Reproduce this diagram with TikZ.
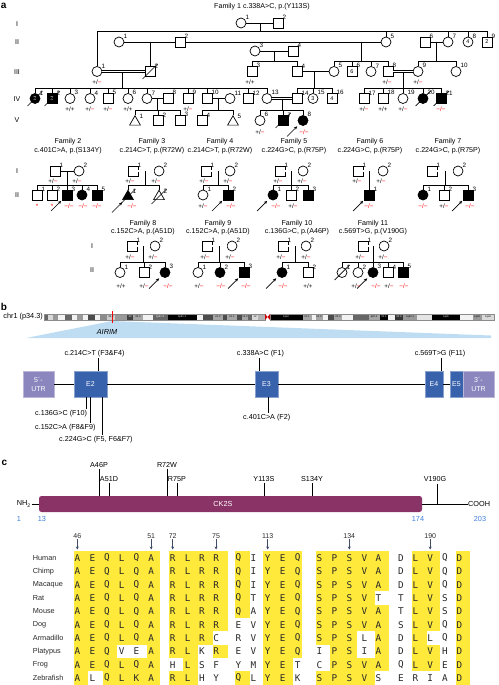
\documentclass[tikz,border=0pt]{standalone}
\usepackage{fontspec}
\setmainfont{Liberation Sans}
\newfontfamily\monof{DejaVu Sans Mono}
\usetikzlibrary{arrows.meta,calc,shapes.geometric}
\definecolor{ylw}{RGB}{255,234,60}
\definecolor{exb}{RGB}{56,98,172}
\definecolor{utr}{RGB}{140,134,191}
\definecolor{ckp}{RGB}{138,51,102}
\definecolor{nblue}{RGB}{62,127,214}
\definecolor{lblue}{RGB}{190,221,243}
\definecolor{arrc}{RGB}{62,74,102}
\definecolor{txt}{RGB}{40,40,40}
\newcommand\fs[1]{\fontsize{#1}{#1}\selectfont}
\newcommand\gHet{+/\textcolor{red}{−}}
\newcommand\gHom{\textcolor{red}{−/−}}
\newcommand\gWt{+/+}
\newcommand\Ind[6]{\node[#2] (#1) at (#3,#4) {#6};\node[num] (#1n) at (#3+4.3,#4-3.3) {#5};}
\newcommand\Dec[1]{\draw[ln] ($(#1)+(-7.5,7.5)$) -- ($(#1)+(7.5,-7.5)$);}
\newcommand\Prb[1]{\draw[pa] ($(#1)+(-16,16)$) -- ($(#1)+(-5.8,5.8)$);}
\newcommand\Sib[3]{\draw[ln] (#2.north) |- (#3.north|-#1) -- (#3.north);}
\newcommand\Tk[2]{\draw[ln] (#2.north) -- (#2.north|-#1);}
\newcommand\Gt[4]{\node[gt] (#1) at (#2,#3) {#4};}
\def\CX{{77.3,92.3,107,121.7,136.5,151.2,172.7,187.7,201.9,216.1,238.3,253.3,267.7,282.7,297.7,319.3,334.3,349.3,364.3,378.3,401,415.3,430.2,445,459.3}}
\def\CL{{74,88,102.5,117.3,131.5,146.7,169,183,198.3,213,235,250,263.3,278,292.7,316,330.3,343.5,356.7,374.5,397,412.3,426.7,439.7,456}}
\def\CR{{88,102.5,117.3,131.5,146.7,160,183,198.3,213,227.7,250,263.3,278,292.7,302.3,330.3,343.5,356.7,374.5,389.3,412.3,426.7,439.7,456,470}}
\newcommand\Row[3]{%
 \node[sp] (sp#1) at (32.7,#2) {#1};
 \foreach \aL/\aF [count=\j from 0] in {#3} {%
   \pgfmathsetmacro\celll{\CL[\j]}\pgfmathsetmacro\cellr{\CR[\j]}%
   \ifnum\aF=1 \fill[ylw] (\celll,#2-6.67) rectangle (\cellr,#2+6.67);\fi}
 \foreach \aL/\aF [count=\j from 0] in {#3} {%
   \pgfmathsetmacro\cellx{\CX[\j]}%
   \node[aa] (#1c\j) at (\cellx,#2) {\aL};}
}
\tikzset{
 ind/.style={draw=black, line width=0.7pt, minimum size=10pt, inner sep=0pt, fill=white, font=\fs{5.5}},
 msq/.style={ind, rectangle},
 fsq/.style={ind, rectangle, fill=black, text=white},
 mci/.style={ind, circle},
 fci/.style={ind, circle, fill=black, text=white},
 mtri/.style={ind, regular polygon, regular polygon sides=3, minimum size=12.5pt},
 ftri/.style={mtri, fill=black},
 num/.style={font=\fs{6.3}, inner sep=0pt, anchor=south west},
 gt/.style={font=\fs{6.3}, inner sep=0pt},
 ln/.style={line width=0.7pt},
 dbl/.style={line width=0.55pt, double, double distance=1.1pt},
 pa/.style={line width=0.7pt, -{Stealth[length=3.4pt,width=3pt]}},
 ttl/.style={font=\fontsize{7.1}{8.6}\selectfont, align=center, inner sep=0pt},
 gen/.style={font=\fs{7}, inner sep=0pt},
 plab/.style={font=\bfseries\fs{10}, inner sep=0pt, anchor=west},
 sp/.style={font=\fs{7.3}, inner sep=0pt, anchor=west, text=txt},
 aa/.style={font=\monof\fs{9.3}, inner sep=0pt, text=txt},
 mlab/.style={font=\fs{7.2}, inner sep=1pt},
 exbox/.style={rectangle, fill=exb, draw=exb!60!white, line width=0.3pt, minimum height=26pt, inner sep=0pt, text=white, font=\fs{7}},
 utrbox/.style={rectangle, fill=utr, draw=utr!60!white, line width=0.3pt, minimum height=26pt, minimum width=31pt, inner sep=0pt, text=white, font=\fontsize{7}{9}\selectfont, align=center},
 bnum/.style={font=\fs{7.3}, inner sep=0pt, text=nblue},
 pnum/.style={font=\fs{7}, inner sep=0.8pt, text=txt},
 alarr/.style={arrc, line width=0.7pt, -{Stealth[length=3pt,width=3pt]}},
 band/.style={font=\fs{2.6}, inner sep=0pt},
}
\begin{document}
\begin{tikzpicture}[x=1pt,y=-1pt]
\useasboundingbox (0,0) rectangle (498,685);
% ===== panel labels =====
\node[plab] (pa) at (0.8,5.5) {a};
\node[plab] (pb) at (0.8,306.5) {b};
\node[plab] (pc) at (1.5,463) {c};
% ===== Family 1 =====
\node[ttl] (t1) at (262,6.5) {Family 1 c.338A>C, p.(Y113S)};
\node[gen] (g1a) at (17,24) {I};
\node[gen] (g1b) at (17,42) {II};
\node[gen] (g1c) at (17,72) {III};
\node[gen] (g1d) at (17,99) {IV};
\node[gen] (g1e) at (17,120.5) {V};
% gen I
\Ind{f1a1}{mci}{241}{23}{1}{}
\Ind{f1a2}{msq}{278}{23}{2}{}
% gen II
\Ind{f1b1}{mci}{119}{42}{1}{}
\Ind{f1b2}{msq}{180}{42}{2}{}
\Ind{f1b3}{mci}{255}{51}{3}{}
\Ind{f1b4}{msq}{293}{51}{4}{}
\Ind{f1b5}{mci}{386}{42}{5}{}
\Ind{f1b6}{msq}{425}{42}{6}{}
\Ind{f1b7}{mci}{448}{42}{7}{}
\Ind{f1b8}{mci}{468}{42}{8}{4}
\Ind{f1b9}{msq}{487}{42}{9}{2}
% gen III
\Ind{f1c1}{mci}{97}{71.5}{1}{}
\Ind{f1c2}{msq}{150}{71.5}{2}{}
\Ind{f1c3}{msq}{252}{71.5}{3}{}
\Ind{f1c4}{msq}{297}{71.5}{4}{}
\Ind{f1c5}{mci}{334}{71.5}{5}{}
\Ind{f1c6}{msq}{352}{71.5}{6}{6}
\Ind{f1c7}{mci}{371}{71.5}{7}{}
\Ind{f1c8}{msq}{388}{71.5}{8}{}
\Ind{f1c9}{mci}{418}{71.5}{9}{}
\Ind{f1c10}{mci}{456}{71.5}{10}{}
% gen IV
\Ind{f1d1}{fci}{35}{98.5}{1}{2}
\Ind{f1d2}{fsq}{52}{98.5}{2}{2}
\Ind{f1d3}{mci}{70}{98.5}{3}{}
\Ind{f1d4}{mci}{90}{98.5}{4}{}
\Ind{f1d5}{msq}{108}{98.5}{5}{}
\Ind{f1d6}{mci}{128}{98.5}{6}{}
\Ind{f1d7}{mci}{147}{98.5}{7}{}
\Ind{f1d8}{msq}{168}{98.5}{8}{}
\Ind{f1d9}{msq}{188}{98.5}{9}{}
\Ind{f1d10}{msq}{207}{98.5}{10}{}
\Ind{f1d11}{mci}{230}{98.5}{11}{}
\Ind{f1d12}{msq}{248}{98.5}{12}{}
\Ind{f1d13}{mci}{267}{98.5}{13}{}
\Ind{f1d14}{msq}{297}{98.5}{14}{}
\Ind{f1d15}{mci}{313}{98.5}{15}{3}
\Ind{f1d16}{msq}{332}{98.5}{16}{4}
\Ind{f1d17}{msq}{364}{98.5}{17}{}
\Ind{f1d18}{msq}{383}{98.5}{18}{}
\Ind{f1d19}{mci}{403}{98.5}{19}{}
\Ind{f1d20}{fci}{423}{98.5}{20}{}
\Ind{f1d21}{fsq}{441}{98.5}{21}{}
% gen V
\Ind{f1e1}{mtri}{135}{122}{1}{}
\Ind{f1e2}{msq}{158}{120.5}{2}{}
\Ind{f1e3}{msq}{180}{120.5}{3}{}
\Ind{f1e4}{msq}{202}{120.5}{4}{}
\Ind{f1e5}{mtri}{233}{122}{5}{}
\Ind{f1e6}{mci}{260}{120.5}{6}{}
\Ind{f1e7}{fsq}{283}{120.5}{7}{}
\Ind{f1e8}{fci}{303}{120.5}{8}{}
% lines family 1
\draw[ln] (f1a1) -- (f1a2);
\coordinate (f1m1) at (260,23); \coordinate (f1s1) at (260,31);
\draw[ln] (f1m1) -- (f1s1);
\Sib{f1s1}{f1c1}{f1b9}
\Tk{f1s1}{f1b5}\Tk{f1s1}{f1b7}\Tk{f1s1}{f1b8}
\draw[ln] (f1b1) -- (f1b2); \draw[ln] (f1b2) -- (f1b5);
\coordinate (f1m2) at (150,42);
\draw[ln] (f1m2) -- (f1c2);
\draw[ln] (f1b3) -- (f1b4);
\coordinate (f1m3) at (274,51); \coordinate (f1s3) at (274,61);
\draw[ln] (f1m3) -- (f1s3);
\Sib{f1s3}{f1c3}{f1c4}
\coordinate (f1m4) at (361,42); \coordinate (f1s4) at (361,61);
\draw[ln] (f1m4) -- (f1s4);
\Sib{f1s4}{f1c5}{f1c8}\Tk{f1s4}{f1c6}\Tk{f1s4}{f1c7}
\draw[ln] (f1b6) -- (f1b7);
\coordinate (f1m5) at (436.5,42); \coordinate (f1s5) at (436.5,61);
\draw[ln] (f1m5) -- (f1s5);
\Sib{f1s5}{f1c9}{f1c10}
\draw[dbl] (f1c1) -- (f1c2);
\Dec{f1c2}
\coordinate (f1m6) at (122,71.5); \coordinate (f1s6) at (122,88);
\draw[ln] (f1m6) -- (f1s6);
\Sib{f1s6}{f1d1}{f1d13}
\foreach \q in {f1d2,f1d3,f1d4,f1d5,f1d6,f1d7,f1d9,f1d10,f1d12} {\Tk{f1s6}{\q}}
\draw[ln] (f1c4) -- (f1c5);
\coordinate (f1m7) at (314,71.5); \coordinate (f1s7) at (314,88);
\draw[ln] (f1m7) -- (f1s7);
\Sib{f1s7}{f1d14}{f1d16}\Tk{f1s7}{f1d15}
\draw[dbl] (f1c8) -- (f1c9);
\coordinate (f1m8) at (403,71.5); \coordinate (f1s8) at (403,88);
\draw[ln] (f1m8) -- (f1s8);
\Sib{f1s8}{f1d17}{f1d21}\Tk{f1s8}{f1d18}\Tk{f1s8}{f1d19}\Tk{f1s8}{f1d20}
\Dec{f1d1}\Dec{f1d2}\Dec{f1d20}\Dec{f1d21}
\draw[ln] (f1d7) -- (f1d8);
\coordinate (f1m9) at (157.5,98.5); \coordinate (f1s9) at (157.5,110.5);
\draw[ln] (f1m9) -- (f1s9);
\Sib{f1s9}{f1e1}{f1e3}\Tk{f1s9}{f1e2}
\draw[ln] (f1d10) -- (f1d11);
\coordinate (f1m10) at (218.5,98.5); \coordinate (f1s10) at (218.5,110.5);
\draw[ln] (f1m10) -- (f1s10);
\Sib{f1s10}{f1e4}{f1e5}
\draw[dbl] (f1d13) -- (f1d14);
\coordinate (f1m11) at (282,98.5); \coordinate (f1s11) at (282,110.5);
\draw[ln] (f1m11) -- (f1s11);
\Sib{f1s11}{f1e6}{f1e8}\Tk{f1s11}{f1e7}
\Dec{f1e7}\Prb{f1e8}
% genotypes family 1
\Gt{f1g1}{97}{82}{\gHet}
\Gt{f1g2}{250}{82}{\gWt}
\Gt{f1g3}{387}{82}{\gHet}
\Gt{f1g4}{418}{82}{\gHet}
\Gt{f1g5}{70}{109}{\gWt}
\Gt{f1g6}{90}{109}{\gHet}
\Gt{f1g7}{108}{109}{\gHet}
\Gt{f1g8}{128}{109}{\gWt}
\Gt{f1g9}{188}{109}{\gHet}
\Gt{f1g10}{364}{109}{\gHet}
\Gt{f1g11}{383}{109}{\gWt}
\Gt{f1g12}{403}{109}{\gHet}
\Gt{f1g13}{441}{109}{\gHom}
\Gt{f1g14}{260}{132}{\gHet}
\Gt{f1g15}{304}{132}{\gHom}
% ===== Families 2-7 =====
\node[gen] (g2a) at (17,171) {I};
\node[gen] (g2b) at (17,195) {II};
\node[ttl] (t2) at (68,146.3) {Family 2\\c.401C>A, p.(S134Y)};
\node[ttl] (t3) at (152,146.3) {Family 3\\c.214C>T, p.(R72W)};
\node[ttl] (t4) at (220,146.3) {Family 4\\c.214C>T, p.(R72W)};
\node[ttl] (t5) at (294,146.3) {Family 5\\c.224G>C, p.(R75P)};
\node[ttl] (t6) at (370,146.3) {Family 6\\c.224G>C, p.(R75P)};
\node[ttl] (t7) at (448,146.3) {Family 7\\c.224G>C, p.(R75P)};
% F2
\Ind{f2a1}{msq}{55}{171}{1}{}
\Ind{f2a2}{mci}{79}{171}{2}{}
\Ind{f2b1}{msq}{37}{195}{1}{}
\Ind{f2b2}{msq}{52}{195}{2}{}
\Ind{f2b3}{fsq}{67}{195}{3}{}
\Ind{f2b4}{fci}{82}{195}{4}{}
\Ind{f2b5}{fsq}{97}{195}{5}{}
\draw[ln] (f2a1) -- (f2a2);
\coordinate (f2m) at (67,171); \coordinate (f2s) at (67,185);
\draw[ln] (f2m) -- (f2s);
\Sib{f2s}{f2b1}{f2b5}\Tk{f2s}{f2b2}\Tk{f2s}{f2b3}\Tk{f2s}{f2b4}
\Prb{f2b3}
\Gt{f2g1}{53}{181}{\gHet}\Gt{f2g2}{77}{181}{\gHet}
\Gt{f2g3}{37}{206}{\textcolor{red}{*}}\Gt{f2g4}{52}{206}{\textcolor{red}{*}}
\Gt{f2g5}{69}{206}{\gHom}\Gt{f2g6}{83}{206}{\gHom}\Gt{f2g7}{97}{206}{\gHom}
% F3
\Ind{f3a1}{msq}{133}{171}{1}{}
\Ind{f3a2}{mci}{159}{171}{2}{}
\Ind{f3b1}{ftri}{128}{196.5}{1}{}
\Ind{f3b2}{mtri}{159}{196.5}{2}{}
\draw[dbl] (f3a1) -- (f3a2);
\coordinate (f3m) at (145,171); \coordinate (f3s) at (145,185);
\draw[ln] (f3m) -- (f3s);
\Sib{f3s}{f3b1}{f3b2}
\Dec{f3b1}\Dec{f3b2}\Prb{f3b1}
\Gt{f3g1}{130}{181}{\gHet}\Gt{f3g2}{156}{181}{\gHet}
\Gt{f3g3}{132}{206}{\gHom}
% F4
\Ind{f4a1}{msq}{206}{171}{1}{}
\Ind{f4a2}{mci}{230}{171}{2}{}
\Ind{f4b1}{mci}{203}{195}{1}{}
\Ind{f4b2}{fsq}{228}{195}{2}{}
\draw[dbl] (f4a1) -- (f4a2);
\coordinate (f4m) at (218,171); \coordinate (f4s) at (218,185);
\draw[ln] (f4m) -- (f4s);
\Sib{f4s}{f4b1}{f4b2}
\Prb{f4b2}
\Gt{f4g1}{204}{181}{\gHet}\Gt{f4g2}{228}{181}{\gHet}
\Gt{f4g3}{203}{206}{\gHet}\Gt{f4g4}{231}{206}{\gHom}
% F5
\Ind{f5a1}{msq}{280}{171}{1}{}
\Ind{f5a2}{mci}{303}{171}{2}{}
\Ind{f5b1}{fci}{273}{195}{1}{}
\Ind{f5b2}{msq}{291}{195}{2}{}
\Ind{f5b3}{fsq}{308}{195}{3}{}
\draw[dbl] (f5a1) -- (f5a2);
\coordinate (f5m) at (291.5,171); \coordinate (f5s) at (291.5,185);
\draw[ln] (f5m) -- (f5s);
\Sib{f5s}{f5b1}{f5b3}\Tk{f5s}{f5b2}
\Prb{f5b1}
\Gt{f5g1}{278}{181}{\gHet}\Gt{f5g2}{302}{181}{\gHet}
\Gt{f5g3}{276}{206}{\gHom}\Gt{f5g4}{293}{206}{\gHet}
% F6
\Ind{f6a1}{msq}{358}{171}{1}{}
\Ind{f6a2}{mci}{383}{171}{2}{}
\Ind{f6b1}{fsq}{369}{195}{1}{}
\draw[dbl] (f6a1) -- (f6a2);
\coordinate (f6m) at (369,171);
\draw[ln] (f6m) -- (f6b1);
\Prb{f6b1}
\Gt{f6g1}{357}{181}{\gHet}\Gt{f6g2}{381}{181}{\gHet}
\Gt{f6g3}{369}{206}{\gHom}
% F7
\Ind{f7a1}{msq}{432}{171}{1}{}
\Ind{f7a2}{mci}{458}{171}{2}{}
\Ind{f7b1}{fci}{423}{195}{1}{}
\Ind{f7b2}{msq}{444}{195}{2}{}
\Ind{f7b3}{fsq}{468}{195}{3}{}
\draw[dbl] (f7a1) -- (f7a2);
\coordinate (f7m) at (445,171); \coordinate (f7s) at (445,185);
\draw[ln] (f7m) -- (f7s);
\Sib{f7s}{f7b1}{f7b3}\Tk{f7s}{f7b2}
\Prb{f7b3}
\Gt{f7g1}{423}{206}{\gHom}\Gt{f7g2}{444}{206}{\gHet}\Gt{f7g3}{470}{206}{\gHom}
% ===== Families 8-11 =====
\node[gen] (g3a) at (92,246) {I};
\node[gen] (g3b) at (92,270) {II};
\node[ttl] (t8) at (143,227.5) {Family 8\\c.152C>A, p.(A51D)};
\node[ttl] (t9) at (218,227.5) {Family 9\\c.152C>A, p.(A51D)};
\node[ttl] (t10) at (297,227.5) {Family 10\\c.136G>C, p.(A46P)};
\node[ttl] (t11) at (373,227.5) {Family 11\\c.569T>G, p.(V190G)};
% F8
\Ind{f8a1}{msq}{132}{246}{1}{}
\Ind{f8a2}{mci}{155}{246}{2}{}
\Ind{f8b1}{mci}{120}{272.5}{1}{}
\Ind{f8b2}{msq}{144}{272.5}{2}{}
\Ind{f8b3}{fci}{165}{272.5}{3}{}
\draw[dbl] (f8a1) -- (f8a2);
\coordinate (f8m) at (143.5,246); \coordinate (f8s) at (143.5,262);
\draw[ln] (f8m) -- (f8s);
\Sib{f8s}{f8b1}{f8b3}\Tk{f8s}{f8b2}
\Prb{f8b3}
\Gt{f8g1}{130}{257}{\gHet}\Gt{f8g2}{153}{257}{\gHet}
\Gt{f8g3}{121}{286}{\gWt}\Gt{f8g4}{144}{286}{\gHet}\Gt{f8g5}{168}{286}{\gHom}
% F9
\Ind{f9a1}{msq}{207}{246}{1}{}
\Ind{f9a2}{mci}{232}{246}{2}{}
\Ind{f9b1}{mci}{198}{272.5}{1}{}
\Ind{f9b2}{fci}{220}{272.5}{2}{}
\Ind{f9b3}{fsq}{244}{272.5}{3}{}
\draw[dbl] (f9a1) -- (f9a2);
\coordinate (f9m) at (219,246); \coordinate (f9s) at (219,262);
\draw[ln] (f9m) -- (f9s);
\Sib{f9s}{f9b1}{f9b3}\Tk{f9s}{f9b2}
\Prb{f9b3}
\Gt{f9g1}{205}{257}{\gHet}\Gt{f9g2}{230}{257}{\gHet}
\Gt{f9g3}{199}{286}{\gHet}\Gt{f9g4}{221}{286}{\gHom}\Gt{f9g5}{246}{286}{\gHom}
% F10
\Ind{f10a1}{msq}{283}{246}{1}{}
\Ind{f10a2}{mci}{306}{246}{2}{}
\Ind{f10b1}{fci}{282}{272.5}{1}{}
\Ind{f10b2}{msq}{308}{272.5}{2}{}
\draw[dbl] (f10a1) -- (f10a2);
\coordinate (f10m) at (295,246); \coordinate (f10s) at (295,262);
\draw[ln] (f10m) -- (f10s);
\Sib{f10s}{f10b1}{f10b2}
\Prb{f10b1}
\Gt{f10g1}{281}{257}{\gHet}\Gt{f10g2}{306}{257}{\gHet}
\Gt{f10g3}{283}{286}{\gHom}\Gt{f10g4}{308}{286}{\gWt}
% F11
\Ind{f11a1}{msq}{363}{246}{1}{}
\Ind{f11a2}{mci}{384}{246}{2}{}
\Ind{f11b1}{mci}{342}{272.5}{1}{}
\Ind{f11b2}{mci}{358}{272.5}{2}{}
\Ind{f11b3}{fci}{373}{272.5}{3}{}
\Ind{f11b4}{msq}{388}{272.5}{4}{}
\Ind{f11b5}{fsq}{403}{272.5}{5}{}
\draw[dbl] (f11a1) -- (f11a2);
\coordinate (f11m) at (373.5,246); \coordinate (f11s) at (373.5,262);
\draw[ln] (f11m) -- (f11s);
\Sib{f11s}{f11b1}{f11b5}\Tk{f11s}{f11b2}\Tk{f11s}{f11b3}\Tk{f11s}{f11b4}
\Dec{f11b1}\Prb{f11b3}
\Gt{f11g1}{360}{257}{\gHet}\Gt{f11g2}{383}{257}{\gHet}
\Gt{f11g3}{356}{286}{\gHet}\Gt{f11g4}{376}{286}{\gHom}\Gt{f11g5}{389}{286}{\gHet}\Gt{f11g6}{404}{286}{\gHom}
% ===== panel b =====
\node[font=\fs{7.3}, inner sep=0pt, anchor=east] (chr) at (43,317) {chr1 (p34.3)};
\fill[lblue] (26,338) -- (112,321) -- (491,335.5) -- (491,338) -- cycle;
\foreach \xa/\xb/\g in {44/48/60,48/53/15,53/58/40,58/65/5,65/72/60,72/77/5,77/83/40,83/88/5,88/95/70,95/100/5,100/107/45,107/115/20,115/127/40,127/133/75,133/143/35,143/153/5,153/168/60,168/197/100,197/203/5,203/213/70,213/223/35,223/227/70,227/237/35,237/242/70,242/248/35,248/252/60,252/258/15,258/265/30,270/303/100,303/312/35,312/316/5,316/323/35,323/328/5,328/334/70,334/342/35,342/353/5,353/369/60,369/380/35,380/388/100,388/395/5,395/403/80,403/417/40,417/432/10,432/460/100,460/473/5,473/482/40,482/494/15}
 {\fill[black!\g] (\xa,314) rectangle (\xb,320);}
\draw[black!45, line width=0.3pt] (44,314) rectangle (265,320);
\draw[black!45, line width=0.3pt] (270,314) rectangle (494,320);
\fill[red!80!black] (265,314) -- (267.5,317) -- (265,320) -- cycle;
\fill[red!80!black] (270,314) -- (267.5,317) -- (270,320) -- cycle;
\draw[red, line width=0.5pt] (112,311) -- (112,323);
\foreach \bx/\bt/\bc in {111/34.2/black,130/33/white,138/32.3/black,160/1p31.3/white,182/1p31.1/white,218/21.3/black,232/21.1/black,245/13.3/black,255/12/black,286/1q12/white,307/21.1/black,319/21.3/black,338/23.3/black,374/q25.3/black,384/31.1/white,399/31.3/white,410/1q32.1/black,446/1q41/white,477/1q43/black,488/1q44/black}
 {\node[band, text=\bc] at (\bx,317) {\bt};}
\node[font=\itshape\fs{7.3}, inner sep=0pt] (airim) at (107,332) {AIRIM};
% gene
\node[utrbox] (u5) at (38.5,384) {5´-\\UTR};
\node[exbox, minimum width=33pt] (e2) at (90.5,384) {E2};
\node[exbox, minimum width=23pt] (e3) at (266.5,384) {E3};
\node[exbox, minimum width=18pt] (e4) at (434,384) {E4};
\node[exbox, minimum width=13pt] (e5) at (456.5,384) {E5};
\node[utrbox] (u3) at (478.5,384) {3´-\\UTR};
\draw[line width=0.8pt] (u5) -- (e2);
\draw[line width=0.8pt] (e2) -- (e3);
\draw[line width=0.8pt] (e3) -- (e4);
\draw[line width=0.8pt] (e4) -- (e5);
\node[mlab] (mu214) at (94.5,354) {c.214C>T (F3\&F4)};
\coordinate (k214) at (98,358); \draw[ln] (k214) -- (k214|-e2.north);
\node[mlab] (mu338) at (260.5,354) {c.338A>C (F1)};
\coordinate (k338) at (259,358); \draw[ln] (k338) -- (k338|-e3.north);
\node[mlab] (mu569) at (440,354) {c.569T>G (F11)};
\coordinate (k569) at (441.5,358); \draw[ln] (k569) -- (k569|-e4.north);
\node[mlab, anchor=west] (mu136) at (34,414) {c.136G>C (F10)};
\coordinate (k136) at (86,397); \draw[ln] (k136|-e2.south) -- (k136|-mu136.north);
\node[mlab, anchor=west] (mu152) at (34,428) {c.152C>A (F8\&F9)};
\coordinate (k152) at (90,397); \draw[ln] (k152|-e2.south) -- (k152|-mu152.north);
\node[mlab, anchor=west] (mu224) at (58,440) {c.224G>C (F5, F6\&F7)};
\coordinate (k224) at (102,397); \draw[ln] (k224|-e2.south) -- (k224|-mu224.north);
\node[mlab, anchor=west] (mu401) at (242,418) {c.401C>A (F2)};
\coordinate (k401) at (268,397); \draw[ln] (k401|-e3.south) -- (k401|-mu401.north);
% ===== panel c =====
\node[font=\fs{7.3}, inner sep=0.5pt, anchor=east] (nh) at (31.5,504) {NH\textsubscript{2}};
\node[font=\fs{7.3}, inner sep=0.5pt, anchor=west] (cooh) at (467.5,504) {COOH};
\draw[line width=0.9pt] (nh.east) -- (cooh.west);
\node[rectangle, rounded corners=2.5pt, fill=ckp, minimum width=383pt, minimum height=16pt, inner sep=0pt] (ck) at (230.5,504) {};
\node[font=\fs{7.3}, text=white, inner sep=0pt] (cktxt) at (223,504) {CK2S};
\node[bnum] (n1) at (19,518.5) {1};
\node[bnum] (n13) at (42,518.5) {13};
\node[bnum] (n174) at (418,518.5) {174};
\node[bnum] (n203) at (480,518.5) {203};
\node[mlab] (mA46) at (99,465) {A46P};
\node[mlab] (mA51) at (109,479) {A51D};
\node[mlab] (mR72) at (167,465) {R72W};
\node[mlab] (mR75) at (177,479) {R75P};
\node[mlab] (mY113) at (264,479) {Y113S};
\node[mlab] (mS134) at (312,479) {S134Y};
\node[mlab] (mV190) at (435,479) {V190G};
\foreach \mm in {mA46,mA51,mR72,mR75,mY113,mS134} {\draw[line width=0.8pt] (\mm.south) -- (\mm.south|-ck.north);}
\coordinate (kV) at (437,483.5); \draw[line width=0.8pt] (kV) -- (kV|-cooh.west);
% alignment
\foreach \nn/\xx in {46/77.3,51/151.2,72/172.7,75/216.1,113/267.7,134/349.3,190/430.2} {
 \node[pnum] (pn\nn) at (\xx,536) {\nn};
 \coordinate (ka\nn) at (\xx,549.5);
 \draw[alarr] (pn\nn.south) -- (ka\nn);
}
\Row{Human}{558}{A/1,E/1,Q/1,L/1,Q/1,A/1,R/1,L/1,R/1,R/1,Q/1,I/0,Y/1,E/1,Q/1,S/1,P/1,S/1,V/1,A/1,D/0,L/1,V/1,Q/0,D/1}
\Row{Chimp}{571.3}{A/1,E/1,Q/1,L/1,Q/1,A/1,R/1,L/1,R/1,R/1,Q/1,I/0,Y/1,E/1,Q/1,S/1,P/1,S/1,V/1,A/1,D/0,L/1,V/1,Q/0,D/1}
\Row{Macaque}{584.7}{A/1,E/1,Q/1,L/1,Q/1,A/1,R/1,L/1,R/1,R/1,Q/1,I/0,Y/1,E/1,Q/1,S/1,P/1,S/1,V/1,A/1,D/0,L/1,V/1,Q/0,D/1}
\Row{Rat}{598}{A/1,E/1,Q/1,L/1,Q/1,A/1,R/1,L/1,R/1,R/1,Q/1,T/0,Y/1,E/1,Q/1,S/1,P/1,S/1,V/1,T/0,T/0,L/1,V/1,S/0,D/1}
\Row{Mouse}{611.3}{A/1,E/1,Q/1,L/1,Q/1,A/1,R/1,L/1,R/1,R/1,Q/1,A/0,Y/1,E/1,Q/1,S/1,P/1,S/1,V/1,A/1,T/0,L/1,V/1,S/0,D/1}
\Row{Dog}{624.7}{A/1,E/1,Q/1,L/1,Q/1,A/1,R/1,L/1,R/1,R/1,E/0,V/0,Y/1,E/1,Q/1,S/1,P/1,S/1,V/1,A/1,S/0,L/1,V/1,Q/0,D/1}
\Row{Armadillo}{638}{A/1,E/1,Q/1,L/1,Q/1,A/1,R/1,L/1,R/1,C/0,R/0,V/0,Y/1,E/1,Q/1,S/1,P/1,S/1,L/0,A/1,D/0,L/1,L/0,Q/0,D/1}
\Row{Platypus}{651.3}{A/1,E/1,Q/1,V/0,E/0,A/1,R/1,L/1,K/0,R/1,E/0,V/0,Y/1,E/1,Q/1,I/0,P/1,S/1,I/0,A/1,D/0,L/1,V/1,H/0,D/1}
\Row{Frog}{664.7}{A/1,E/1,Q/1,L/1,Q/1,A/1,H/0,L/1,S/0,F/0,Y/0,M/0,Y/1,E/1,T/0,C/0,P/1,S/1,V/1,A/1,Q/0,L/1,V/1,E/0,D/1}
\Row{Zebrafish}{678}{A/1,L/0,Q/1,L/1,K/1,A/1,R/1,L/1,H/0,Y/0,Q/1,L/0,Y/1,E/1,K/0,S/1,P/1,S/1,V/1,S/0,E/0,R/0,I/0,A/0,D/1}
\end{tikzpicture}
\end{document}
